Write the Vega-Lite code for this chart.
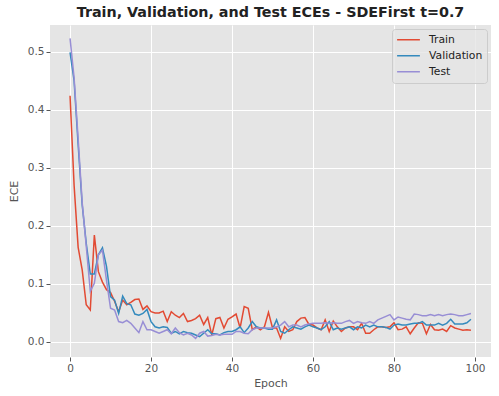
{
  "$schema": "https://vega.github.io/schema/vega-lite/v6.json",
  "autosize": "none",
  "width": 441,
  "height": 332,
  "padding": {"left": 50, "top": 25, "right": 8, "bottom": 39},
  "background": "white",
  "title": {"text": "Train, Validation, and Test ECEs - SDEFirst t=0.7", "font": "DejaVu Sans", "fontSize": 14.3, "fontWeight": "bold", "color": "#222222", "offset": 5, "anchor": "middle"},
  "config": {
    "view": {"fill": "#E5E5E5", "stroke": null},
    "font": "DejaVu Sans",
    "axis": {"domain": false, "grid": true, "gridColor": "white", "gridWidth": 1, "tickColor": "#555555", "tickSize": 4, "labelColor": "#555555", "labelFontSize": 10.5, "titleColor": "#555555", "titleFontSize": 11, "titleFontWeight": "normal", "labelFont": "DejaVu Sans", "titleFont": "DejaVu Sans"}
  },
  "data": {"values": [
    {"epoch":0,"Train":0.424,"Validation":0.499,"Test":0.523},
    {"epoch":1,"Train":0.27,"Validation":0.45,"Test":0.455},
    {"epoch":2,"Train":0.163,"Validation":0.34,"Test":0.35},
    {"epoch":3,"Train":0.124,"Validation":0.236,"Test":0.24},
    {"epoch":4,"Train":0.064,"Validation":0.17,"Test":0.165},
    {"epoch":5,"Train":0.055,"Validation":0.117,"Test":0.087},
    {"epoch":6,"Train":0.184,"Validation":0.117,"Test":0.101},
    {"epoch":7,"Train":0.121,"Validation":0.15,"Test":0.15},
    {"epoch":8,"Train":0.103,"Validation":0.162,"Test":0.158},
    {"epoch":9,"Train":0.09,"Validation":0.13,"Test":0.106},
    {"epoch":10,"Train":0.085,"Validation":0.078,"Test":0.058},
    {"epoch":11,"Train":0.07,"Validation":0.072,"Test":0.055},
    {"epoch":12,"Train":0.052,"Validation":0.049,"Test":0.035},
    {"epoch":13,"Train":0.072,"Validation":0.079,"Test":0.033},
    {"epoch":14,"Train":0.064,"Validation":0.066,"Test":0.037},
    {"epoch":15,"Train":0.068,"Validation":0.064,"Test":0.032},
    {"epoch":16,"Train":0.073,"Validation":0.048,"Test":0.024},
    {"epoch":17,"Train":0.074,"Validation":0.046,"Test":0.016},
    {"epoch":18,"Train":0.056,"Validation":0.049,"Test":0.035},
    {"epoch":19,"Train":0.062,"Validation":0.056,"Test":0.021},
    {"epoch":20,"Train":0.052,"Validation":0.035,"Test":0.021},
    {"epoch":21,"Train":0.05,"Validation":0.026,"Test":0.018},
    {"epoch":22,"Train":0.05,"Validation":0.024,"Test":0.015},
    {"epoch":23,"Train":0.053,"Validation":0.026,"Test":0.018},
    {"epoch":24,"Train":0.035,"Validation":0.025,"Test":0.021},
    {"epoch":25,"Train":0.052,"Validation":0.015,"Test":0.014},
    {"epoch":26,"Train":0.046,"Validation":0.018,"Test":0.024},
    {"epoch":27,"Train":0.042,"Validation":0.014,"Test":0.016},
    {"epoch":28,"Train":0.049,"Validation":0.018,"Test":0.012},
    {"epoch":29,"Train":0.035,"Validation":0.016,"Test":0.015},
    {"epoch":30,"Train":0.037,"Validation":0.015,"Test":0.012},
    {"epoch":31,"Train":0.04,"Validation":0.012,"Test":0.006},
    {"epoch":32,"Train":0.046,"Validation":0.009,"Test":0.015},
    {"epoch":33,"Train":0.03,"Validation":0.015,"Test":0.018},
    {"epoch":34,"Train":0.042,"Validation":0.021,"Test":0.01},
    {"epoch":35,"Train":0.012,"Validation":0.014,"Test":0.011},
    {"epoch":36,"Train":0.04,"Validation":0.014,"Test":0.013},
    {"epoch":37,"Train":0.042,"Validation":0.012,"Test":0.012},
    {"epoch":38,"Train":0.024,"Validation":0.016,"Test":0.013},
    {"epoch":39,"Train":0.039,"Validation":0.018,"Test":0.013},
    {"epoch":40,"Train":0.043,"Validation":0.018,"Test":0.013},
    {"epoch":41,"Train":0.048,"Validation":0.021,"Test":0.018},
    {"epoch":42,"Train":0.024,"Validation":0.026,"Test":0.018},
    {"epoch":43,"Train":0.061,"Validation":0.016,"Test":0.015},
    {"epoch":44,"Train":0.058,"Validation":0.024,"Test":0.014},
    {"epoch":45,"Train":0.021,"Validation":0.035,"Test":0.021},
    {"epoch":46,"Train":0.026,"Validation":0.026,"Test":0.024},
    {"epoch":47,"Train":0.021,"Validation":0.024,"Test":0.024},
    {"epoch":48,"Train":0.026,"Validation":0.024,"Test":0.024},
    {"epoch":49,"Train":0.051,"Validation":0.022,"Test":0.024},
    {"epoch":50,"Train":0.024,"Validation":0.022,"Test":0.024},
    {"epoch":51,"Train":0.024,"Validation":0.038,"Test":0.026},
    {"epoch":52,"Train":0.006,"Validation":0.018,"Test":0.029},
    {"epoch":53,"Train":0.026,"Validation":0.015,"Test":0.035},
    {"epoch":54,"Train":0.018,"Validation":0.021,"Test":0.026},
    {"epoch":55,"Train":0.021,"Validation":0.026,"Test":0.029},
    {"epoch":56,"Train":0.035,"Validation":0.024,"Test":0.029},
    {"epoch":57,"Train":0.041,"Validation":0.022,"Test":0.026},
    {"epoch":58,"Train":0.042,"Validation":0.026,"Test":0.029},
    {"epoch":59,"Train":0.03,"Validation":0.029,"Test":0.031},
    {"epoch":60,"Train":0.029,"Validation":0.026,"Test":0.032},
    {"epoch":61,"Train":0.024,"Validation":0.024,"Test":0.032},
    {"epoch":62,"Train":0.021,"Validation":0.021,"Test":0.032},
    {"epoch":63,"Train":0.038,"Validation":0.026,"Test":0.033},
    {"epoch":64,"Train":0.018,"Validation":0.035,"Test":0.032},
    {"epoch":65,"Train":0.036,"Validation":0.021,"Test":0.033},
    {"epoch":66,"Train":0.026,"Validation":0.024,"Test":0.032},
    {"epoch":67,"Train":0.018,"Validation":0.022,"Test":0.032},
    {"epoch":68,"Train":0.024,"Validation":0.024,"Test":0.035},
    {"epoch":69,"Train":0.026,"Validation":0.026,"Test":0.037},
    {"epoch":70,"Train":0.026,"Validation":0.021,"Test":0.032},
    {"epoch":71,"Train":0.021,"Validation":0.026,"Test":0.035},
    {"epoch":72,"Train":0.032,"Validation":0.024,"Test":0.033},
    {"epoch":73,"Train":0.015,"Validation":0.029,"Test":0.032},
    {"epoch":74,"Train":0.015,"Validation":0.026,"Test":0.035},
    {"epoch":75,"Train":0.021,"Validation":0.029,"Test":0.032},
    {"epoch":76,"Train":0.026,"Validation":0.026,"Test":0.038},
    {"epoch":77,"Train":0.026,"Validation":0.026,"Test":0.041},
    {"epoch":78,"Train":0.025,"Validation":0.025,"Test":0.044},
    {"epoch":79,"Train":0.026,"Validation":0.022,"Test":0.047},
    {"epoch":80,"Train":0.033,"Validation":0.029,"Test":0.038},
    {"epoch":81,"Train":0.021,"Validation":0.031,"Test":0.043},
    {"epoch":82,"Train":0.022,"Validation":0.029,"Test":0.041},
    {"epoch":83,"Train":0.026,"Validation":0.029,"Test":0.039},
    {"epoch":84,"Train":0.014,"Validation":0.031,"Test":0.038},
    {"epoch":85,"Train":0.024,"Validation":0.032,"Test":0.048},
    {"epoch":86,"Train":0.033,"Validation":0.032,"Test":0.047},
    {"epoch":87,"Train":0.032,"Validation":0.035,"Test":0.045},
    {"epoch":88,"Train":0.014,"Validation":0.029,"Test":0.045},
    {"epoch":89,"Train":0.03,"Validation":0.029,"Test":0.047},
    {"epoch":90,"Train":0.021,"Validation":0.029,"Test":0.045},
    {"epoch":91,"Train":0.02,"Validation":0.032,"Test":0.047},
    {"epoch":92,"Train":0.022,"Validation":0.029,"Test":0.045},
    {"epoch":93,"Train":0.018,"Validation":0.032,"Test":0.047},
    {"epoch":94,"Train":0.028,"Validation":0.039,"Test":0.048},
    {"epoch":95,"Train":0.024,"Validation":0.031,"Test":0.047},
    {"epoch":96,"Train":0.022,"Validation":0.031,"Test":0.045},
    {"epoch":97,"Train":0.02,"Validation":0.031,"Test":0.045},
    {"epoch":98,"Train":0.021,"Validation":0.033,"Test":0.047},
    {"epoch":99,"Train":0.02,"Validation":0.039,"Test":0.049}
  ]},
  "transform": [{"fold": ["Train", "Validation", "Test"], "as": ["series", "ece"]}],
  "mark": {"type": "line", "strokeWidth": 1.5, "interpolate": "linear"},
  "encoding": {
    "x": {"field": "epoch", "type": "quantitative", "title": "Epoch",
      "scale": {"domain": [-4.95, 103.95], "nice": false, "zero": false},
      "axis": {"values": [0, 20, 40, 60, 80, 100], "titlePadding": 4}},
    "y": {"field": "ece", "type": "quantitative", "title": "ECE",
      "scale": {"domain": [-0.026, 0.546], "nice": false, "zero": false},
      "axis": {"values": [0, 0.1, 0.2, 0.3, 0.4, 0.5], "format": ".1f", "titlePadding": 8}},
    "color": {"field": "series", "type": "nominal",
      "scale": {"domain": ["Train", "Validation", "Test"], "range": ["#E24A33", "#348ABD", "#988ED5"]},
      "legend": {"title": null, "orient": "top-right", "offset": 4, "symbolType": "stroke", "symbolSize": 520, "symbolStrokeWidth": 1.5, "clipHeight": 13.5, "labelFontSize": 10.8, "labelColor": "#222222", "fillColor": "rgba(229,229,229,0.8)", "strokeColor": "#CCCCCC", "padding": 4, "cornerRadius": 3, "rowPadding": 2, "labelOffset": 8, "labelFont": "DejaVu Sans"}}
  }
}
